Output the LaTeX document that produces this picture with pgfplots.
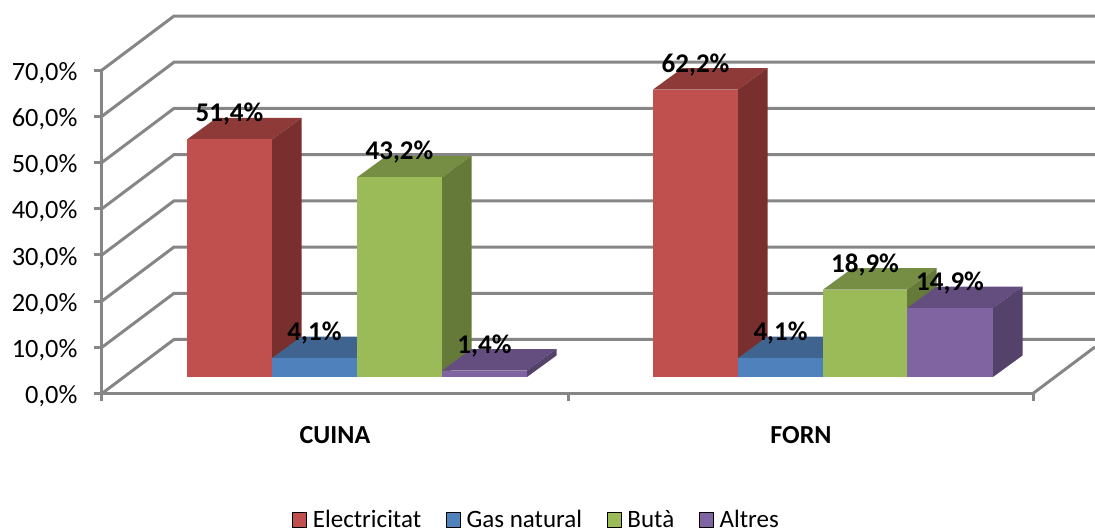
\documentclass[border=0pt]{standalone}
\usepackage{fontspec}
\setmainfont{Carlito}
\usepackage{pgfplots}
\pgfplotsset{compat=1.18}

\definecolor{gr}{HTML}{868686}
\definecolor{rF}{HTML}{C0504D}\definecolor{rT}{HTML}{8E3A38}\definecolor{rS}{HTML}{792F2E}
\definecolor{bF}{HTML}{4F81BD}\definecolor{bT}{HTML}{3F6490}\definecolor{bS}{HTML}{355478}
\definecolor{gF}{HTML}{9BBB59}\definecolor{gT}{HTML}{768E43}\definecolor{gS}{HTML}{657A39}
\definecolor{pF}{HTML}{8064A2}\definecolor{pT}{HTML}{644E7F}\definecolor{pS}{HTML}{54426B}

% one 3d bar: x0, x1, value, colour prefix (floor of the bars is 16.5 px over the axis = 3.57)
\newcommand{\threedbar}[4]{
  \addplot[forget plot, draw=none, fill=#4T] coordinates {(#1,{#3+3.57}) (#2,{#3+3.57}) ({#2+29.5},{#3+8.22}) ({#1+29.5},{#3+8.22})} -- cycle;
  \addplot[forget plot, draw=none, fill=#4S] coordinates {(#2,3.57) ({#2+29.5},8.22) ({#2+29.5},{#3+8.22}) (#2,{#3+3.57})} -- cycle;
  \addplot[forget plot, draw=none, fill=#4F] coordinates {(#1,3.57) (#2,3.57) (#2,{#3+3.57}) (#1,{#3+3.57})} -- cycle;
}

\begin{document}
\begin{tikzpicture}
\begin{axis}[
    x=1pt, y=4.621pt,
    xmin=102, xmax=1033, ymin=0, ymax=70,
    clip=false,
    axis x line=bottom, axis y line=left,
    axis line style={-, draw=gr, line width=3pt},
    tick align=outside,
    major tick length=8pt, minor tick length=8pt,
    tick style={draw=gr, line width=3pt},
    ytick={0,10,...,70},
    xtick={335,801}, xticklabels={CUINA,FORN},
    minor xtick={102,568,1033},
    every major x tick/.style={draw=none},
    x tick label style={font=\fontsize{26}{30}\selectfont\bfseries, anchor=base, yshift=-42.5pt},
    y tick label style={font=\fontsize{26.4}{30}\selectfont, anchor=east, xshift=-13pt, yshift=-3pt},
    /pgf/number format/.cd, fixed, fixed zerofill, precision=1, use comma, assume math mode=true,
    /pgfplots/.cd,
    yticklabel={\pgfmathprintnumber{\tick}\%},
    legend style={at={(axis cs:292,-29.4)}, anchor=south west, draw=none, fill=none, inner sep=0pt, outer sep=0pt,
        nodes={inner sep=0pt},
        font=\fontsize{25}{30}\selectfont,
        /tikz/every odd column/.append style={column sep=6.5pt},
        /tikz/every even column/.append style={column sep=24.5pt}},
    legend columns=4,
    legend image code/.code={\fill[#1] (0pt,-7.5pt) rectangle (14pt,7.5pt);},
]
% walls and floor
\pgfplotsinvokeforeach{0,10,...,70}{
  \addplot[forget plot, overlay, gr, line width=3pt, line join=miter] coordinates {(102,#1) (174,{#1+11.686}) (1095,{#1+11.686})};
}
\addplot[forget plot, overlay, gr, line width=3pt] coordinates {(1033,0) (1095,10.06)};

% CUINA
\threedbar{187}{272}{51.4}{r}
\threedbar{272}{357}{4.1}{b}
\threedbar{357}{442}{43.2}{g}
\threedbar{442}{527}{1.4}{p}
% FORN
\threedbar{653}{738}{62.2}{r}
\threedbar{738}{823}{4.1}{b}
\threedbar{823}{907}{18.9}{g}
\threedbar{907}{993}{14.9}{p}

% data labels
\addplot[forget plot, only marks, mark size=0pt, point meta=explicit symbolic,
    nodes near coords,
    every node near coord/.append style={font=\fontsize{27}{30}\selectfont\bfseries, text=black, anchor=base, inner sep=0pt, yshift=34pt}]
  coordinates {
    (229.5,51.4)[51,4\%] (314.5,4.1)[4,1\%] (399.5,43.2)[43,2\%] (484.5,1.4)[1,4\%]
    (695.5,62.2)[62,2\%] (780.5,4.1)[4,1\%] (865,18.9)[18,9\%] (950,14.9)[14,9\%]
  };

\addlegendimage{fill=rF}\addlegendentry{Electricitat}
\addlegendimage{fill=bF}\addlegendentry{Gas natural}
\addlegendimage{fill=gF}\addlegendentry{Butà}
\addlegendimage{fill=pF}\addlegendentry{Altres}

% page frame: 1095 x 530 px of the reference
\path (axis cs:0,-29.54) rectangle (axis cs:1095,85.15);
\end{axis}
\end{tikzpicture}
\end{document}
